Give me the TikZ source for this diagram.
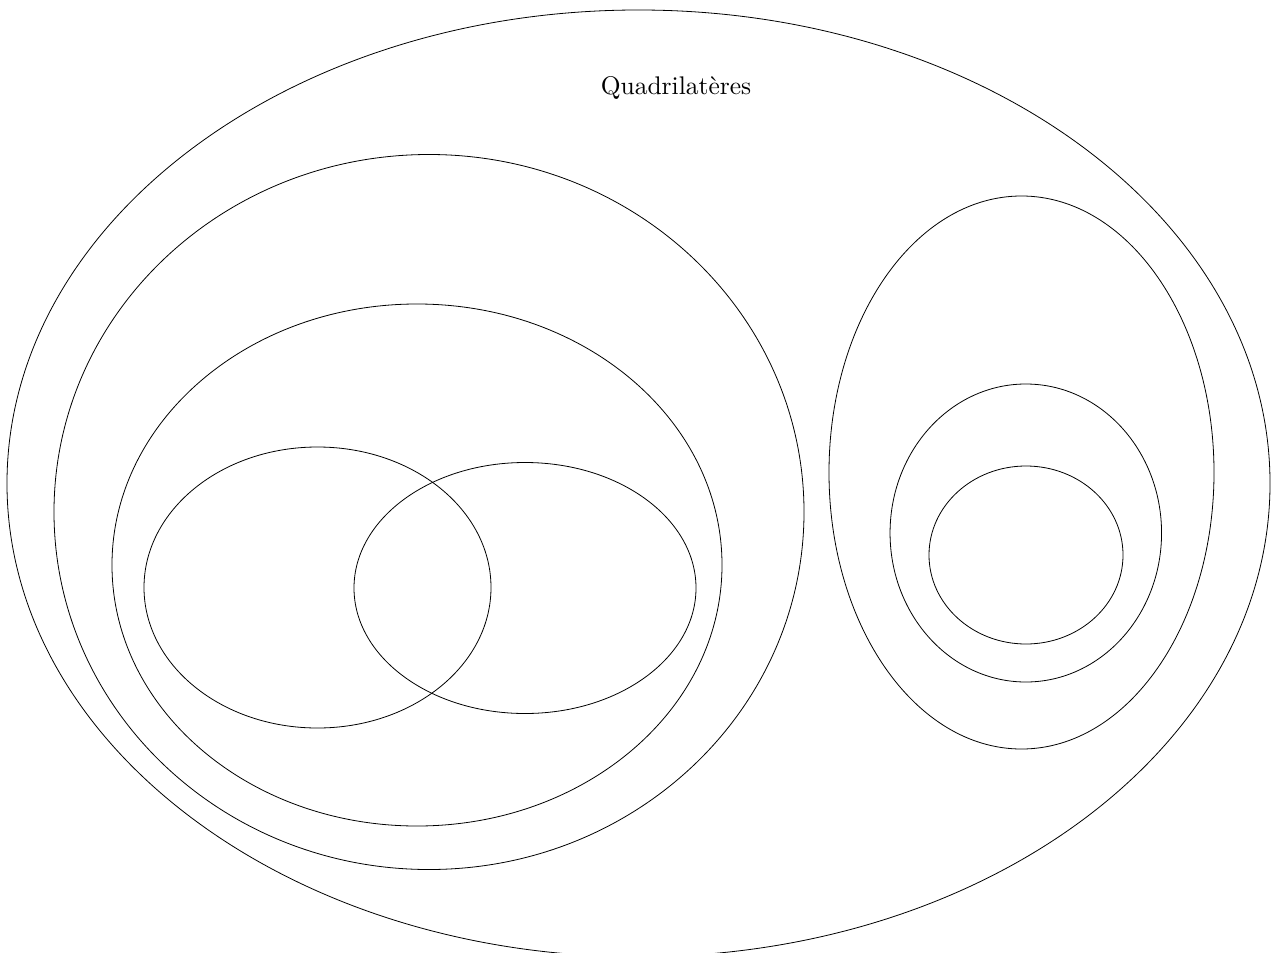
\documentclass[tikz,border=0pt]{standalone}
\begin{document}
\begin{tikzpicture}[x=0.4pt,y=-0.4pt,
  set/.style={draw=black,line width=0.32pt},
  lbl/.style={font=\fontsize{10.2}{12}\selectfont,inner sep=0pt}]
\useasboundingbox (0,0) rectangle (1273,953);
\clip (0,0) rectangle (1273,953);
% outer set
\draw[set] (638.5,483.4) ellipse [x radius=252.6pt, y radius=189.36pt];
% left group
\draw[set] (429,512) ellipse [x radius=150pt, y radius=143pt];
\draw[set] (417,565) ellipse [x radius=122pt, y radius=104.4pt];
\draw[set] (317.5,587.5) ellipse [x radius=69.4pt, y radius=56.2pt];
\draw[set] (525,588) ellipse [x radius=68.4pt, y radius=50.2pt];
% right group
\draw[set] (1021.5,472.5) ellipse [x radius=77pt, y radius=110.6pt];
\draw[set] (1025.8,533) ellipse [x radius=54.3pt, y radius=59.6pt];
\draw[set] (1026,555) ellipse [x radius=38.8pt, y radius=35.6pt];
\node[lbl] (title) at (676,88) {Quadrilatères};
\end{tikzpicture}
\end{document}
